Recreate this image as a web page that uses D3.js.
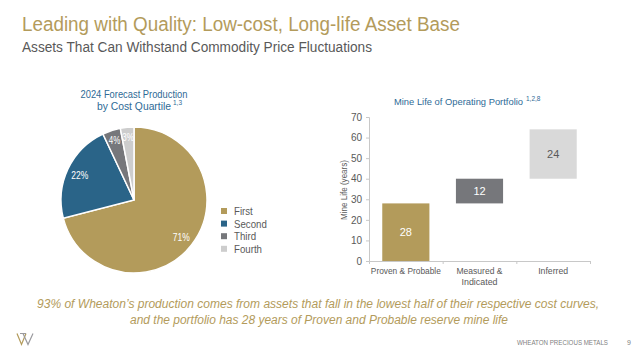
<!DOCTYPE html>
<html>
<head>
<meta charset="utf-8">
<script src="https://cdn.jsdelivr.net/npm/d3@7"></script>
<style>
  body { margin: 0; background: #fff; }
  svg text { font-family: "Liberation Sans", Arial, sans-serif; }
</style>
</head>
<body>
<div id="chart"></div>
<script>
'use strict'

const width = 640;
const height = 350;

// pie data
const quartiles = ['First', 'Second', 'Third', 'Fourth'];
const shares = [71, 22, 4, 3];
const pieColors = ['#b39b5b', '#2a6488', '#76777b', '#cdcdcd'];

// mine life data (floating bars)
const reserveCats = ['Proven & Probable', 'Measured & Indicated', 'Inferred'];
const lifeYears = [28, 12, 24];
const barColors = ['#b39b5b', '#76777b', '#d9d9d9'];
const barLabelColors = ['#fff', '#fff', '#595959'];
const yTicks = [0, 10, 20, 30, 40, 50, 60, 70];

const gold = '#b39b5b';
const blue = '#2e6a96';
const grey = '#595959';

const svg = d3.select('#chart')
              .append('svg')
              .attr('width', width)
              .attr('height', height);

// squeeze a text to a given width (the source font is condensed)
function fit (sel, w) {
    return sel.attr('textLength', w).attr('lengthAdjust', 'spacingAndGlyphs');
}

function label (x, y, txt, size, color, anchor) {
    return svg.append('text')
              .attr('x', x).attr('y', y)
              .attr('text-anchor', anchor || 'start')
              .style('font-size', size + 'px')
              .style('fill', color)
              .text(txt);
}

/* HEADER */
fit(label(22, 31, 'Leading with Quality: Low-cost, Long-life Asset Base', 20, gold), 438);
fit(label(22, 52, 'Assets That Can Withstand Commodity Price Fluctuations', 14, grey), 350);

/* PIE */
fit(label(134, 98, '2024 Forecast Production', 10.5, blue, 'middle'), 107);
fit(label(97, 110, 'by Cost Quartile', 10.5, blue), 74);
label(173, 105, '1,3', 6.5, blue);

const radius = 73;
const pieG = svg.append('g').attr('transform', 'translate(134,200)');
const pie = d3.pie().sort(null).value(d => d)(shares);
const arc = d3.arc().innerRadius(0).outerRadius(radius);

pieG.selectAll('path')
    .data(pie)
    .enter()
    .append('path')
    .attr('d', arc)
    .attr('fill', (d, i) => pieColors[i])
    .attr('stroke', '#fff')
    .attr('stroke-width', 1.5);

// label distance from centre (fraction of radius)
const labelRad = [0.82, 0.82, 0.86, 0.87];
pieG.selectAll('text.pl')
    .data(pie)
    .enter()
    .append('text')
    .attr('class', 'pl')
    .attr('text-anchor', 'middle')
    .attr('transform', (d, i) => {
        const r = radius * labelRad[i];
        const c = d3.arc().innerRadius(r).outerRadius(r).centroid(d);
        return 'translate(' + c[0] + ',' + (c[1] + 4) + ')';
    })
    .attr('textLength', d => d.data >= 10 ? 17 : 11.5)
    .attr('lengthAdjust', 'spacingAndGlyphs')
    .style('font-size', '10.5px')
    .style('fill', '#fff')
    .text(d => d.data + '%');

// legend
const legend = svg.append('g').attr('transform', 'translate(221,208)');
quartiles.forEach((q, i) => {
    legend.append('rect')
          .attr('x', 0).attr('y', i * 12.6)
          .attr('width', 6).attr('height', 6)
          .attr('fill', pieColors[i]);
    legend.append('text')
          .attr('x', 13).attr('y', i * 12.6 + 7)
          .style('font-size', '11px')
          .style('fill', grey)
          .attr('transform', 'translate(' + (13 * 0.12) + ',0) scale(0.88,1)')
          .text(q);
});

/* BAR CHART */
fit(label(394, 105, 'Mine Life of Operating Portfolio', 9.5, blue), 129);
label(526, 101, '1,2,8', 6.5, blue);

const xScale = d3.scaleBand()
                 .domain(reserveCats)
                 .range([369, 590])
                 .paddingInner(0.36)
                 .paddingOuter(0.18);
const yScale = d3.scaleLinear()
                 .domain([0, 70])
                 .range([261, 117]);

const starts = lifeYears.map((v, i) => d3.sum(lifeYears.slice(0, i)));

const yAxis = d3.axisLeft(yScale).tickValues(yTicks).tickSize(3).tickPadding(4);
const yG = svg.append('g').attr('transform', 'translate(369,0)').call(yAxis);
yG.select('.domain').attr('stroke', '#c8c8c8');
yG.selectAll('.tick line').attr('stroke', '#c8c8c8');
yG.selectAll('.tick text')
  .style('font-size', '10px')
  .style('fill', grey)
  .style('font-family', '"Liberation Sans", Arial, sans-serif');

const xAxis = d3.axisBottom(d3.scaleLinear().domain([0, 3]).range([369, 590]))
                .tickValues([1, 2, 3]).tickSize(3).tickFormat('');
const xG = svg.append('g').attr('transform', 'translate(0,261)').call(xAxis);
xG.select('.domain').attr('stroke', '#c8c8c8');
xG.selectAll('.tick line').attr('stroke', '#c8c8c8');

fit(svg.append('text')
   .attr('transform', 'translate(347,190) rotate(-90)')
   .attr('text-anchor', 'middle')
   .style('font-size', '9.5px')
   .style('fill', grey)
   .text('Mine Life (years)'), 60);

svg.selectAll('rect.bar')
   .data(lifeYears)
   .enter()
   .append('rect')
   .attr('class', 'bar')
   .attr('x', (d, i) => xScale(reserveCats[i]))
   .attr('y', (d, i) => yScale(starts[i] + d))
   .attr('width', xScale.bandwidth())
   .attr('height', (d, i) => yScale(starts[i]) - yScale(starts[i] + d))
   .attr('fill', (d, i) => barColors[i]);

svg.selectAll('text.bl')
   .data(lifeYears)
   .enter()
   .append('text')
   .attr('class', 'bl')
   .attr('text-anchor', 'middle')
   .attr('x', (d, i) => xScale(reserveCats[i]) + xScale.bandwidth() / 2)
   .attr('y', (d, i) => yScale(starts[i] + d / 2) + 4)
   .style('font-size', '11px')
   .style('fill', (d, i) => barLabelColors[i])
   .text(d => d);

// category labels (wrap "Measured & Indicated")
const catLines = [['Proven & Probable'], ['Measured &', 'Indicated'], ['Inferred']];
const catWidths = [[70], [46, 36], [30]];
reserveCats.forEach((c, i) => {
    catLines[i].forEach((ln, j) => {
        fit(label(xScale(c) + xScale.bandwidth() / 2, 274 + j * 11, ln, 9.5, grey, 'middle'), catWidths[i][j]);
    });
});

/* FOOTNOTE */
fit(label(318, 308, '93% of Wheaton\u2019s production comes from assets that fall in the lowest half of their respective cost curves,', 12.5, gold, 'middle')
    .style('font-style', 'italic'), 562);
fit(label(319, 324, 'and the portfolio has 28 years of Proven and Probable reserve mine life', 12.5, gold, 'middle')
    .style('font-style', 'italic'), 378);

/* FOOTER */
svg.append('path')
   .attr('d', 'M17,333.5 L21.5,344.5 L26,333.5')
   .attr('fill', 'none').attr('stroke', gold).attr('stroke-width', 1.2);
svg.append('path')
   .attr('d', 'M20,333.5 L26,333.5 M23,333.5 L28,344.5 L33,333.5')
   .attr('fill', 'none').attr('stroke', '#9a9a9e').attr('stroke-width', 1.2);

fit(label(517, 345, 'WHEATON  PRECIOUS METALS', 6.5, '#7f7f7f'), 91);
label(627, 345, '9', 7, '#7f7f7f');
</script>
</body>
</html>
